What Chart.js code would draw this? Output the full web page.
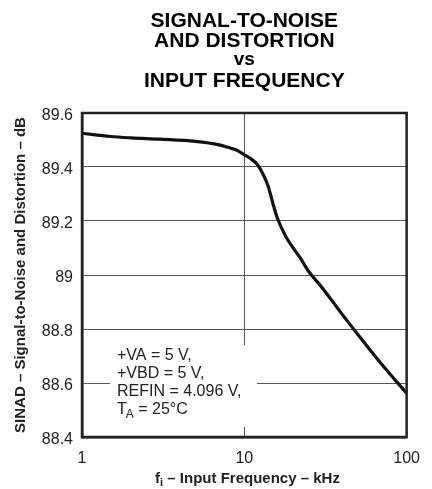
<!DOCTYPE html>
<html>
<head>
<meta charset="utf-8">
<script src="https://cdn.jsdelivr.net/npm/chart.js@4"></script>
<style>
  html, body { margin: 0; padding: 0; background: #fff; }
  #wrap { width: 432px; height: 489px; position: relative; }
</style>
</head>
<body>
<div id="wrap"><canvas id="c" width="432" height="489"></canvas></div>
<script>
// ---- data ----
const freqKHz = [1, 1.5, 2, 3, 5, 7, 8, 9, 10, 11, 12, 13, 14, 15, 16, 18, 20, 22, 25, 30, 40, 50, 70, 100];
const sinadDB = [89.525, 89.513, 89.508, 89.503, 89.495, 89.482, 89.472, 89.462, 89.445, 89.43, 89.41, 89.375, 89.33, 89.265, 89.21, 89.143, 89.10, 89.065, 89.012, 88.955, 88.855, 88.78, 88.67, 88.562];
const xTicks = [1, 10, 100];
const yTicks = [88.4, 88.6, 88.8, 89, 89.2, 89.4, 89.6];
const titleLines = ["SIGNAL-TO-NOISE", "AND DISTORTION", "vs", "INPUT FREQUENCY"];
const yAxisTitle = "SINAD \u2013 Signal-to-Noise and Distortion \u2013 dB";
const xAxisTitleMain = "f";
const xAxisTitleSub = "i";
const xAxisTitleRest = " \u2013 Input Frequency \u2013 kHz";
const conditions = ["+VA = 5 V,", "+VBD = 5 V,", "REFIN = 4.096 V,"];
const condTemp = { main: "T", sub: "A", rest: " = 25\u00B0C" };

const FONT = "Liberation Sans, Arial, Helvetica, sans-serif";

const points = freqKHz.map((f, i) => ({ x: f, y: sinadDB[i] }));

const decorPlugin = {
  id: 'decor',
  beforeDatasetsDraw(chart) {
    const ctx = chart.ctx;
    const a = chart.chartArea;
    ctx.save();
    ctx.fillStyle = '#fff';
    ctx.fillRect(a.left + 28, a.top + 232, 147, 82);
    ctx.restore();
  },
  afterDatasetsDraw(chart) {
    const ctx = chart.ctx;
    const a = chart.chartArea;
    ctx.save();
    ctx.strokeStyle = '#222';
    ctx.lineWidth = 2.5;
    ctx.strokeRect(a.left, a.top, a.right - a.left, a.bottom - a.top);

    ctx.fillStyle = '#222';
    ctx.textAlign = 'left';
    ctx.textBaseline = 'alphabetic';
    ctx.font = '16px ' + FONT;
    const tx = a.left + 35;
    let ty = a.top + 247;
    conditions.forEach(line => { ctx.fillText(line, tx, ty); ty += 18; });
    ctx.fillText(condTemp.main, tx, ty);
    let w = ctx.measureText(condTemp.main).width;
    ctx.font = '12px ' + FONT;
    ctx.fillText(condTemp.sub, tx + w - 1, ty + 4);
    w += ctx.measureText(condTemp.sub).width - 1;
    ctx.font = '16px ' + FONT;
    ctx.fillText(condTemp.rest, tx + w, ty);

    const cx = (a.left + a.right) / 2;
    ctx.fillStyle = '#000';
    ctx.textAlign = 'center';
    const baselines = [27, 47, 65, 87];
    titleLines.forEach((t, i) => {
      ctx.font = (i === 2 ? 'bold 19px ' : 'bold 21px ') + FONT;
      ctx.fillText(t, cx, baselines[i]);
    });

    ctx.textAlign = 'left';
    ctx.fillStyle = '#222';
    ctx.font = 'bold 15px ' + FONT;
    const w1 = ctx.measureText(xAxisTitleMain).width;
    const w3 = ctx.measureText(xAxisTitleRest).width;
    ctx.font = 'bold 11px ' + FONT;
    const w2 = ctx.measureText(xAxisTitleSub).width;
    const total = w1 + w2 + w3;
    let x0 = 247.5 - total / 2;
    const by = 483;
    ctx.font = 'bold 15px ' + FONT;
    ctx.fillText(xAxisTitleMain, x0, by);
    ctx.font = 'bold 11px ' + FONT;
    ctx.fillText(xAxisTitleSub, x0 + w1, by + 3);
    ctx.font = 'bold 15px ' + FONT;
    ctx.fillText(xAxisTitleRest, x0 + w1 + w2, by);
    ctx.restore();
  }
};

new Chart(document.getElementById('c'), {
  type: 'line',
  data: {
    datasets: [{
      data: points,
      borderColor: '#111',
      borderWidth: 3.2,
      pointRadius: 0,
      fill: false,
      cubicInterpolationMode: 'monotone'
    }]
  },
  options: {
    responsive: false,
    animation: false,
    devicePixelRatio: 1,
    layout: { padding: { top: 113, right: 25, left: 0, bottom: 0 } },
    plugins: { legend: { display: false }, tooltip: { enabled: false }, title: { display: false } },
    scales: {
      x: {
        type: 'logarithmic',
        min: 1, max: 100,
        afterBuildTicks: s => { s.ticks = xTicks.map(v => ({ value: v })); },
        afterFit: s => { s.height = 52; },
        ticks: {
          autoSkip: false, maxRotation: 0,
          color: '#222',
          font: { family: FONT, size: 16 },
          padding: 12,
          callback: v => String(v)
        },
        grid: { color: '#555', lineWidth: 1, drawTicks: false },
        border: { display: true, color: '#222', width: 2.5 }
      },
      y: {
        type: 'linear',
        min: 88.4, max: 89.6,
        afterBuildTicks: s => { s.ticks = yTicks.map(v => ({ value: v })); },
        afterFit: s => { s.width = 82; },
        ticks: {
          color: '#222',
          font: { family: FONT, size: 16 },
          padding: 9,
          labelOffset: 3,
          callback: v => String(Math.round(v * 10) / 10)
        },
        grid: { color: '#555', lineWidth: 1, drawTicks: false },
        border: { display: true, color: '#222', width: 2.5 },
        title: {
          display: true,
          text: yAxisTitle,
          color: '#222',
          font: { family: FONT, size: 15, weight: 'bold' },
          padding: { top: 12, bottom: 0 }
        }
      }
    }
  },
  plugins: [decorPlugin]
});
</script>
</body>
</html>
